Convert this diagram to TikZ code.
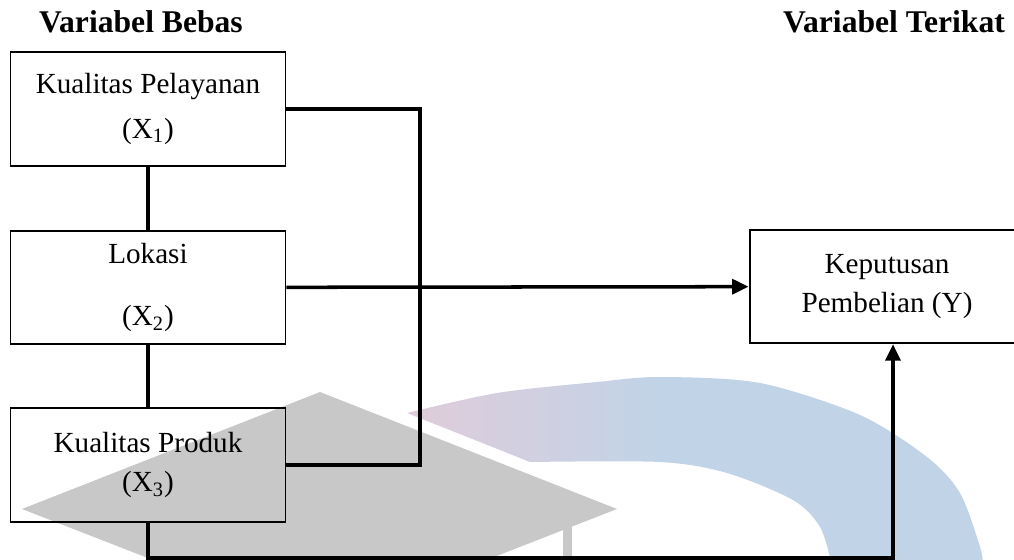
\documentclass[tikz,border=0pt]{standalone}
\usepackage{fontspec}
\setmainfont{Liberation Serif}
\usepackage{tikz}
\usetikzlibrary{arrows.meta,calc}

\definecolor{WmGrey}{HTML}{C8C8C8}
\definecolor{WmPink}{HTML}{E0CCDA}
\definecolor{WmBlue}{HTML}{C1D3E7}

\begin{document}
\begin{tikzpicture}[x=0.02cm, y=-0.02cm]
			\tikzstyle{Box}		= [rectangle, draw, line width=1.1pt, minimum width=5.5cm, minimum height=2.27cm, inner sep=0pt, align=center, font=\fontsize{16.6}{22.7}\selectfont]
			\tikzstyle{Title}	= [font=\fontsize{18}{22}\selectfont\bfseries]
			\tikzstyle{Link}	= [line width=2pt]
			\tikzstyle{Arrow}	= [Link, -{Triangle[length=3.3mm, width=3mm]}]
			
			\useasboundingbox (0, 0) rectangle (1014, 560);
			
			% logo in the background
			\fill [WmGrey] (22, 509) -- (320, 392) -- (617, 509) -- (320, 625) -- cycle;
			\fill [WmGrey] (563, 527) rectangle (572, 562);
			\begin{scope}
				\clip plot [smooth] coordinates {(407, 413) (497, 393) (597, 382) (660, 377) (760, 383) (860, 415) (927, 457) (960, 493) (980, 547) (983, 565)}
					-- plot [smooth] coordinates {(832, 565) (820, 527) (793, 500) (727, 473) (660, 462) (530, 462)}
					-- cycle;
				\shade [left color=WmPink, right color=WmBlue] (405, 360) rectangle (660, 480);
				\fill [WmBlue] (659, 360) rectangle (990, 570);
			\end{scope}
			
			\node (tb) at (141, 22) [Title] {Variabel Bebas};
			\node (tt) at (894, 22) [Title] {Variabel Terikat};
			
			\node (x1) at (148, 109) [Box] {Kualitas Pelayanan\\[2.8pt](X\textsubscript{1})};
			\node (x2) at (148, 287.5) [Box] {Lokasi\\[13pt](X\textsubscript{2})};
			\node (x3) at (148, 465) [Box] {Kualitas Produk\\(X\textsubscript{3})};
			\node (y) at (887, 286.5) [Box] {Keputusan\\Pembelian (Y)};
			
			\coordinate (bend) at (420, 0);
			\coordinate (base) at (0, 558);
			\coordinate (yin) at ([xshift=0.12cm]y.south);
			
			\draw [Link] (x1) to (x2);
			\draw [Link] (x2) to (x3);
			\draw [Link] (x1.east) -- (x1.east -| bend) -- (x3.east -| bend) -- (x3.east);
			\draw [Arrow] (x2) to (y);
			\draw [Arrow] (x3.south) -- (x3.south |- base) -- (yin |- base) -- (yin);
		\end{tikzpicture}
\end{document}
